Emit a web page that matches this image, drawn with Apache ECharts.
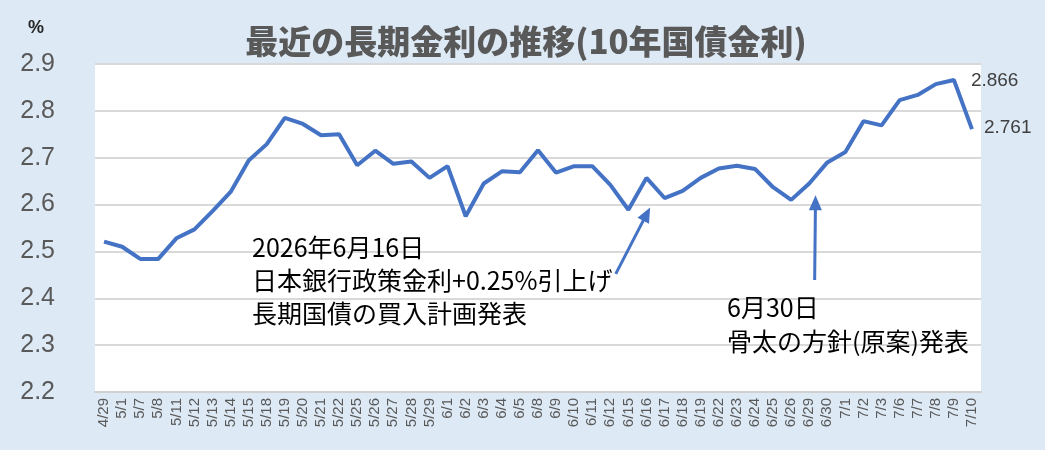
<!DOCTYPE html>
<html>
<head>
<meta charset="utf-8">
<script src="https://cdn.jsdelivr.net/npm/echarts@6/dist/echarts.min.js"></script>
<style>
html,body{margin:0;padding:0;background:#dde9f5;}
#chart{width:1045px;height:450px;}
</style>
</head>
<body>
<div id="chart"></div>
<script>
var titleText = '最近の長期金利の推移(10年国債金利)';
var unitText = '%';
var categories = ['4/29','5/1','5/7','5/8','5/11','5/12','5/13','5/14','5/15','5/18','5/19','5/20','5/21','5/22','5/25','5/26','5/27','5/28','5/29','6/1','6/2','6/3','6/4','6/5','6/8','6/9','6/10','6/11','6/12','6/15','6/16','6/17','6/18','6/19','6/22','6/23','6/24','6/25','6/26','6/29','6/30','7/1','7/2','7/3','7/6','7/7','7/8','7/9','7/10'];
var yields = [2.521,2.510,2.484,2.484,2.528,2.547,2.586,2.627,2.694,2.729,2.785,2.772,2.748,2.750,2.684,2.715,2.687,2.692,2.657,2.682,2.575,2.645,2.671,2.669,2.716,2.668,2.682,2.682,2.642,2.589,2.657,2.614,2.629,2.657,2.677,2.683,2.676,2.637,2.610,2.645,2.690,2.712,2.778,2.769,2.823,2.834,2.857,2.866,2.761];
var labeledIndices = [47, 48];
var yTicks = [2.2, 2.3, 2.4, 2.5, 2.6, 2.7, 2.8, 2.9];
var note1Lines = ['2026年6月16日', '日本銀行政策金利+0.25%引上げ', '長期国債の買入計画発表'];
var note2Lines = ['6月30日', '骨太の方針(原案)発表'];
// arrow anchors in data space: [category index (fractional), value]
var arrow1 = [[28.3, 2.452], [30.2, 2.594]];
var arrow2 = [[39.3, 2.439], [39.35, 2.620]];

var chart = echarts.init(document.getElementById('chart'));
var lineColor = '#4472C4';

var option = {
  backgroundColor: '#dde9f5',
  animation: false,
  title: {
    text: titleText, left: 521, top: 20, textAlign: 'center',
    textStyle: { fontSize: 33, fontWeight: 900, color: '#595959', fontFamily: 'Noto Sans CJK JP' }
  },
  grid: { left: 95, right: 64, top: 64, bottom: 58, show: true, backgroundColor: '#ffffff', borderWidth: 0 },
  xAxis: {
    type: 'category', data: categories, boundaryGap: true,
    axisLine: { show: true, lineStyle: { color: '#d0d0d0', width: 2 } },
    axisTick: { show: false },
    axisLabel: { interval: 0, rotate: 90, fontSize: 15, color: '#595959', margin: 6 },
    splitLine: { show: false }
  },
  yAxis: {
    type: 'value', min: yTicks[0], max: yTicks[yTicks.length - 1], interval: 0.1,
    axisLine: { show: false }, axisTick: { show: false },
    axisLabel: { fontSize: 25, color: '#595959', margin: 40, formatter: function (v) { return v.toFixed(1); } },
    splitLine: { show: true, lineStyle: { color: '#d9d9d9', width: 2 } }
  },
  series: [{
    type: 'line', data: yields, symbol: 'none', clip: false,
    lineStyle: { color: lineColor, width: 4 }, itemStyle: { color: lineColor }
  }]
};
chart.setOption(option);

function toPx(pt) {
  var i0 = Math.floor(pt[0]), f = pt[0] - i0;
  var a = chart.convertToPixel({ gridIndex: 0 }, [i0, pt[1]]);
  var b = chart.convertToPixel({ gridIndex: 0 }, [i0 + 1, pt[1]]);
  return [a[0] + (b[0] - a[0]) * f, a[1]];
}
function arrowGraphics(anchor) {
  var p0 = toPx(anchor[0]), p1 = toPx(anchor[1]);
  var dx = p1[0] - p0[0], dy = p1[1] - p0[1];
  var len = Math.sqrt(dx * dx + dy * dy);
  var ux = dx / len, uy = dy / len;
  var hl = 15, hw = 6.5;
  var bx = p1[0] - ux * hl, by = p1[1] - uy * hl;
  return [{
    type: 'line', shape: { x1: p0[0], y1: p0[1], x2: bx + ux * 2, y2: by + uy * 2 },
    style: { stroke: lineColor, lineWidth: 3 }
  }, {
    type: 'polygon',
    shape: { points: [[p1[0], p1[1]], [bx - uy * hw, by + ux * hw], [bx + uy * hw, by - ux * hw]] },
    style: { fill: lineColor }
  }];
}
function textBlock(lines, x, y, lh) {
  return lines.map(function (t, i) {
    return { type: 'text', x: x, y: y + i * lh,
      style: { text: t, fontSize: 25, fill: '#000000', textVerticalAlign: 'middle', fontFamily: 'Noto Sans CJK JP' } };
  });
}
var labelOffsets = [[17, 1], [12, -1]];
var valueLabels = labeledIndices.map(function (i, k) {
  var p = chart.convertToPixel({ gridIndex: 0 }, [i, yields[i]]);
  return { type: 'text', x: p[0] + labelOffsets[k][0], y: p[1] + labelOffsets[k][1],
    style: { text: yields[i].toFixed(3), fontSize: 19, fill: '#404040', textVerticalAlign: 'middle' } };
});
var g = [].concat(
  [{ type: 'text', left: 28, top: 19, style: { text: unitText, fontSize: 18, fontWeight: 'bold', fill: '#262626' } }],
  valueLabels,
  arrowGraphics(arrow1), arrowGraphics(arrow2),
  textBlock(note1Lines, 252, 247, 33),
  textBlock(note2Lines, 727, 307, 34)
);
chart.setOption({ graphic: g });
</script>
</body>
</html>
